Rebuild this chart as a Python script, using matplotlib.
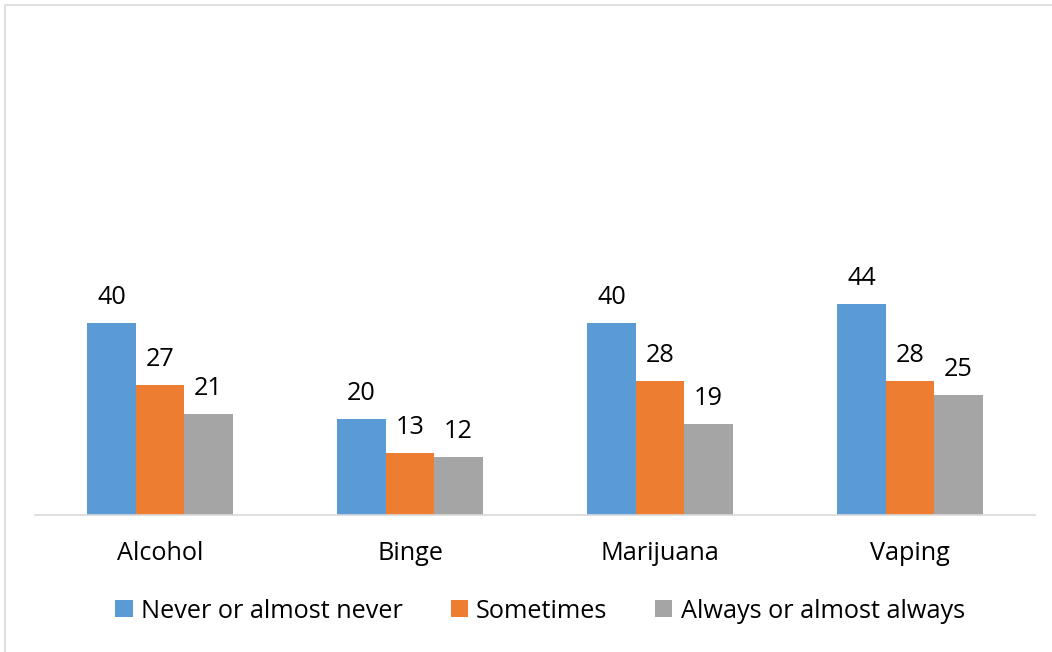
import matplotlib
matplotlib.use("Agg")
import matplotlib.pyplot as plt
import numpy as np
from matplotlib.patches import Rectangle

categories = ["Alcohol", "Binge", "Marijuana", "Vaping"]
series_names = ["Never or almost never", "Sometimes", "Always or almost always"]
never = [40, 20, 40, 44]
sometimes = [27, 13, 28, 28]
always = [21, 12, 19, 25]
colors = ["#5B9BD5", "#ED7D31", "#A5A5A5"]

plt.rcParams['font.family'] = ['Open Sans', 'DejaVu Sans']
FS = 18.2

W, H = 1052, 652
fig = plt.figure(figsize=(W / 100, H / 100), dpi=100)
ax = fig.add_axes([35 / W, 1 - 515 / H, 1000 / W, 480 / H])

x = np.arange(len(categories))
bw = 0.194
for i, (vals, name, c) in enumerate(zip([never, sometimes, always], series_names, colors)):
    bars = ax.bar(x + (i - 1) * bw, vals, width=bw, color=c, label=name, zorder=2)
    for b, v in zip(bars, vals):
        ax.annotate(str(v), (b.get_x() + b.get_width() / 2, v), xytext=(0, 13),
                    textcoords="offset pixels", ha="center", va="bottom",
                    fontsize=FS, color="#000000")

ax.set_xlim(-0.5, 3.5)
ax.set_ylim(0, 100)
ax.set_yticks([])
ax.set_xticks(x)
ax.set_xticklabels(categories, fontsize=FS)
ax.tick_params(axis="x", length=0, pad=19)
for s in ["top", "right", "left"]:
    ax.spines[s].set_visible(False)
ax.spines["bottom"].set_color("#D9D9D9")
ax.spines["bottom"].set_linewidth(1.2)

leg = fig.legend(loc="center", bbox_to_anchor=(540 / W, 1 - 611 / H), ncol=3,
                 frameon=False, fontsize=FS, handlelength=0.68, handleheight=0.68,
                 handletextpad=0.32, columnspacing=1.9)

# outer chart border
fig.patches.append(Rectangle((5 / W, -0.01), 1.2, (H - 5) / H + 0.01, transform=fig.transFigure,
                             fill=False, edgecolor="#D9D9D9", linewidth=1.2))

fig.savefig("out.png", dpi=100)
